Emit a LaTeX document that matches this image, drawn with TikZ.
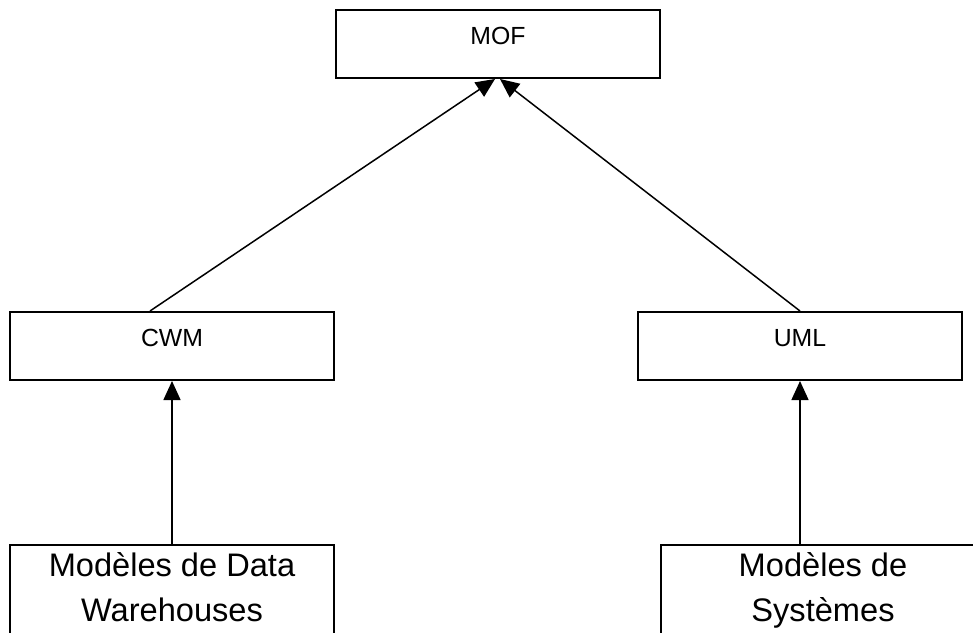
\documentclass[tikz,border=0pt]{standalone}
\usepackage{fontspec}
\setmainfont{Liberation Sans}
\usetikzlibrary{positioning,arrows.meta}

\begin{document}
\begin{tikzpicture}[->, >={Triangle[length=9.5pt,width=8.5pt]}, line width=0.75pt, node distance=116pt,
  box/.style={draw, rectangle, line width=1pt, minimum width=162pt, inner xsep=0pt, inner ysep=0pt,
    font=\fontsize{12.4pt}{15pt}\selectfont, text height=17pt, text depth=17pt},
  bigbox/.style={box, font=\fontsize{16.3pt}{22.5pt}\selectfont, text height=15.5pt, text depth=60pt}]
\useasboundingbox (0,0) rectangle (486.5pt,-316pt);
\node[box] (mof) at (249pt,-22pt) {MOF};
\node[box] (cwm) [below left=116pt and 0pt of mof] {CWM};
\node[box] (uml) [below right=116pt and -12pt of mof] {UML};
\node[bigbox] (mdw) [below=81.5pt of cwm] {\begin{tabular}[t]{@{}c@{}}Modèles de Data\\Warehouses\end{tabular}};
\node[bigbox] (msys) [below=81.5pt of uml, xshift=11.5pt] {\begin{tabular}[t]{@{}c@{}}Modèles de\\Systèmes\end{tabular}};
\path
(mdw) edge (cwm)
(msys.north -| uml.south) edge (uml.south)
([xshift=-11pt]cwm.north) edge ([xshift=-1.5pt]mof.south)
(uml.north) edge ([xshift=1pt]mof.south);
\end{tikzpicture}
\end{document}
